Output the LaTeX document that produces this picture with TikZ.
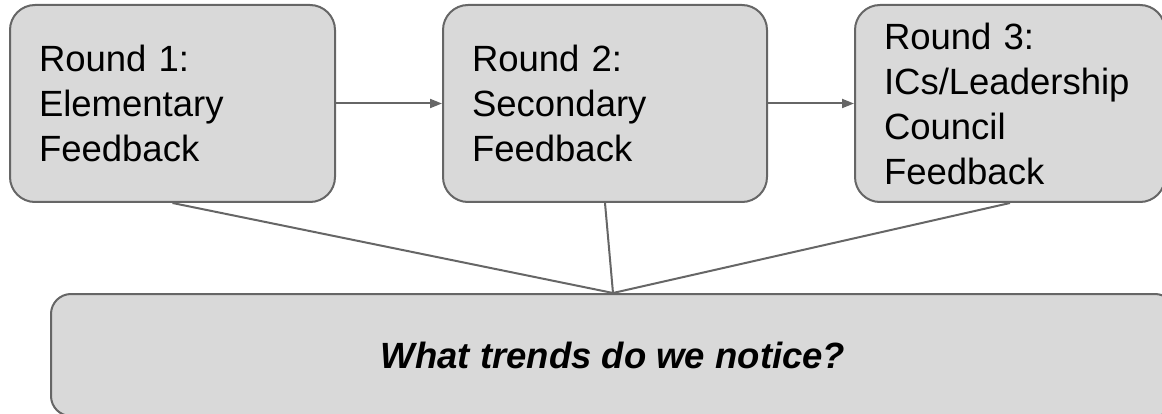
\documentclass[tikz,border=0pt]{standalone}
\usepackage{fontspec}
\setmainfont{Liberation Sans}
\usetikzlibrary{arrows.meta,positioning}
\definecolor{boxfill}{HTML}{D9D9D9}
\definecolor{edge}{HTML}{666666}

\begin{document}
\begin{tikzpicture}[x=1pt, y=1pt,
  font=\fontsize{36.5}{45}\selectfont,
  stage/.style={draw=edge, line width=2pt, fill=boxfill, rounded corners=25pt,
                align=left, inner xsep=29pt, minimum height=197pt, text width=267pt},
  ask/.style={draw=edge, line width=2pt, fill=boxfill, rounded corners=20pt,
              minimum width=1124pt, minimum height=122pt},
  ar/.style={-{Triangle[length=12pt, width=9pt]}, edge, line width=2pt},
  ln/.style={edge, line width=2pt}]
  \clip (0,0) rectangle (1162,-414);
  \node[stage] (r1) at (172.5,-103.5) {Round 1:\\Elementary\\Feedback};
  \node[stage, right=106pt of r1, text width=266pt] (r2) {Round 2:\\Secondary\\Feedback};
  \node[stage, right=86pt of r2, text width=252pt] (r3)
       {Round 3:\\ICs/Leadership\\Council\\Feedback};
  \node[ask] (ask) at (613,-355) {\bfseries\itshape What trends do we notice?};
  \foreach \i/\j in {r1/r2, r2/r3} \draw[ar] (\i) -- (\j);
  \foreach \i in {r1, r2, r3} \draw[ln] (\i.south) -- (ask.north);
\end{tikzpicture}
\end{document}
